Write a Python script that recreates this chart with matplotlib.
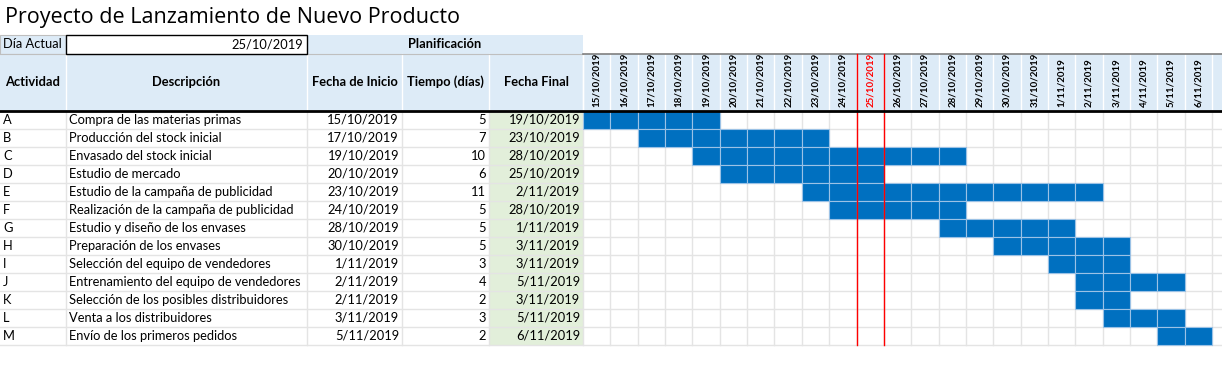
import datetime as dt
import matplotlib.pyplot as plt
from matplotlib.patches import Rectangle

# data
activities = ['A', 'B', 'C', 'D', 'E', 'F', 'G', 'H', 'I', 'J', 'K', 'L', 'M']
descriptions = [
    'Compra de las materias primas',
    'Producción del stock inicial',
    'Envasado del stock inicial',
    'Estudio de mercado',
    'Estudio de la campaña de publicidad',
    'Realización de la campaña de publicidad',
    'Estudio y diseño de los envases',
    'Preparación de los envases',
    'Selección del equipo de vendedores',
    'Entrenamiento del equipo de vendedores',
    'Selección de los posibles distribuidores',
    'Venta a los distribuidores',
    'Envío de los primeros pedidos',
]
start_dates = ['15/10/2019', '17/10/2019', '19/10/2019', '20/10/2019', '23/10/2019',
               '24/10/2019', '28/10/2019', '30/10/2019', '1/11/2019', '2/11/2019',
               '2/11/2019', '3/11/2019', '5/11/2019']
durations = [5, 7, 10, 6, 11, 5, 5, 5, 3, 4, 2, 3, 2]
end_dates = ['19/10/2019', '23/10/2019', '28/10/2019', '25/10/2019', '2/11/2019',
             '28/10/2019', '1/11/2019', '3/11/2019', '3/11/2019', '5/11/2019',
             '3/11/2019', '5/11/2019', '6/11/2019']
today = '25/10/2019'
timeline_start = '15/10/2019'
n_days = 23
headers = ['Actividad', 'Descripción', 'Fecha de Inicio', 'Tiempo (días)', 'Fecha Final']
title = 'Proyecto de Lanzamiento de Nuevo Producto'


def parse(s):
    return dt.datetime.strptime(s, '%d/%m/%Y').date()


def fmt(d):
    return f'{d.day}/{d.month:02d}/{d.year}'


# layout (pixels)
col_edges = [0, 66, 307, 402, 489, 583]
gx0 = 583
cw = 27.35
row_top = 111
rh = 18
hdr_top, hdr_bot = 54, 110
W = 1222

light_blue = '#DDEBF7'
green = '#E2EFDA'
bar_blue = '#0070C0'
grid = '#E4E4E4'

plt.rcParams['font.family'] = ['Lato', 'DejaVu Sans']
fs = 9.3

fig = plt.figure(figsize=(12.22, 3.71), dpi=100)
ax = fig.add_axes([0, 0, 1, 1])
ax.set_xlim(0, W)
ax.set_ylim(371, 0)
ax.axis('off')

n = len(activities)
table_bot = row_top + n * rh
d0 = parse(timeline_start)

# title
ax.text(5, 17, title, fontsize=15.5, family=['Open Sans', 'DejaVu Sans'], va='center', ha='left')

# "Día Actual" row
ax.add_patch(Rectangle((0, 35), 66, 19, fc=light_blue, ec='#BFBFBF', lw=0.8))
ax.add_patch(Rectangle((66, 35), 241, 19, fc='white', ec='black', lw=1.0, zorder=3))
ax.add_patch(Rectangle((307, 35), 276, 19, fc=light_blue, ec='none'))
ax.text(3, 44.5, 'Día Actual', fontsize=fs, va='center', ha='left')
ax.text(303, 44.5, today, fontsize=fs, va='center', ha='right', zorder=4)
ax.text(445, 44.5, 'Planificación', fontsize=fs, va='center', ha='center', weight='bold')

# header row
ax.add_patch(Rectangle((0, hdr_top), W, hdr_bot - hdr_top, fc=light_blue, ec='none'))
for x in col_edges[1:]:
    ax.plot([x, x], [hdr_top, hdr_bot], color='white', lw=1)
for k in range(n_days + 1):
    x = gx0 + k * cw
    ax.plot([x, x], [hdr_top, hdr_bot], color='white', lw=1)
ax.plot([0, gx0], [hdr_top, hdr_top], color='#BFBFBF', lw=0.8)
ax.plot([gx0, W], [hdr_top, hdr_top], color='#7F7F7F', lw=1.2)
for i, h in enumerate(headers):
    xc = (col_edges[i] + col_edges[i + 1]) / 2
    ax.text(xc, 82, h, fontsize=fs, weight='bold', ha='center', va='center')

today_d = parse(today)
for k in range(n_days):
    d = d0 + dt.timedelta(days=k)
    color = 'red' if d == today_d else 'black'
    ax.text(gx0 + (k + 0.5) * cw, 107, fmt(d), rotation=90, fontsize=7, weight='bold',
            ha='center', va='bottom', color=color)

# body
ax.add_patch(Rectangle((col_edges[4], row_top), col_edges[5] - col_edges[4], n * rh,
                       fc=green, ec='none'))
for i in range(n + 1):
    y = row_top + i * rh
    ax.plot([0, W], [y, y], color=grid, lw=1, zorder=1)
for x in col_edges[1:5]:
    ax.plot([x, x], [row_top, table_bot], color=grid, lw=1, zorder=1)
for k in range(n_days + 2):
    x = gx0 + k * cw
    ax.plot([x, x], [row_top, table_bot], color=grid, lw=1, zorder=1)

for i in range(n):
    yc = row_top + (i + 0.5) * rh
    ax.text(3, yc, activities[i], fontsize=fs, va='center', ha='left')
    ax.text(69, yc, descriptions[i], fontsize=fs, va='center', ha='left')
    ax.text(col_edges[3] - 3, yc, start_dates[i], fontsize=fs, va='center', ha='right')
    ax.text(col_edges[4] - 3, yc, str(durations[i]), fontsize=fs, va='center', ha='right')
    ax.text(col_edges[5] - 3, yc, end_dates[i], fontsize=fs, va='center', ha='right')

    s = (parse(start_dates[i]) - d0).days
    e = (parse(end_dates[i]) - d0).days
    for k in range(s, e + 1):
        ax.add_patch(Rectangle((gx0 + k * cw, row_top + i * rh), cw, rh,
                               fc=bar_blue, ec='#9BC2E6', lw=0.8, zorder=2))

# today markers
t = (today_d - d0).days
for x in (gx0 + t * cw, gx0 + (t + 1) * cw):
    ax.plot([x, x], [hdr_top, table_bot], color='red', lw=1, zorder=5)

# thick header border
ax.plot([0, W], [hdr_bot + 0.5, hdr_bot + 0.5], color='black', lw=2, zorder=6)

fig.savefig('out.png', dpi=100)
